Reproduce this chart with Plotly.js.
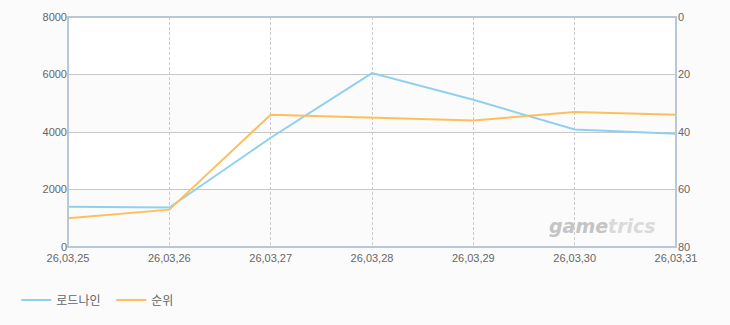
<!DOCTYPE html>
<html><head><meta charset="utf-8">
<script src="https://cdn.plot.ly/plotly-3.0.1.min.js"></script>
<style>html,body{margin:0;padding:0;background:#fbfbfb;}#c{width:730px;height:325px;}</style>
</head><body><div id="c"></div>
<script>
var dates = ["26,03,25","26,03,26","26,03,27","26,03,28","26,03,29","26,03,30","26,03,31"];
var players = [1400, 1370, 3800, 6050, 5120, 4090, 3940];
var rank = [70, 67, 34, 35, 36, 33, 34];
var leftTicks = [0, 2000, 4000, 6000, 8000];
var rightTicks = [0, 20, 40, 60, 80];

var font = {family: "Liberation Sans, Arial, sans-serif", size: 11, color: "#666"};
var shapes = [];
for (var i = 0; i < leftTicks.length - 1; i++) {
  shapes.push({type: "rect", xref: "paper", yref: "y", x0: 0, x1: 1, y0: leftTicks[i], y1: leftTicks[i+1],
    fillcolor: (i % 2 === 0) ? "#fbfbfb" : "#ffffff", line: {width: 0}, layer: "below"});
}
shapes.push({type: "rect", xref: "paper", yref: "paper", x0: 0, x1: 1, y0: 0, y1: 1,
  fillcolor: "rgba(0,0,0,0)", line: {color: "#b8c8d8", width: 2}, layer: "above"});

var data = [
  {x: dates, y: players, name: "로드나인", type: "scatter", mode: "lines", yaxis: "y",
   line: {color: "#8fd0f0", width: 2}},
  {x: dates, y: rank, name: "순위", type: "scatter", mode: "lines", yaxis: "y2",
   line: {color: "#ffbe5c", width: 2}}
];
var layout = {
  width: 730, height: 325,
  margin: {l: 68, r: 54, t: 17, b: 77},
  paper_bgcolor: "#fbfbfb", plot_bgcolor: "#ffffff",
  font: font,
  showlegend: true,
  legend: {orientation: "h", x: -0.085, xanchor: "left", y: -0.225, yanchor: "middle",
    font: {family: "Noto Sans CJK KR, sans-serif", size: 12, color: "#666"}, itemwidth: 30,
    entrywidth: 50, entrywidthmode: "pixels", bgcolor: "rgba(0,0,0,0)"},
  xaxis: {type: "category", range: [0, dates.length - 1], showgrid: true, gridcolor: "#cccccc", griddash: "3px,2px",
    gridwidth: 1, zeroline: false, ticks: "", tickfont: font, ticklabelstandoff: 3, showline: false, fixedrange: true},
  yaxis: {range: [0, 8000], tickvals: leftTicks, ticktext: leftTicks.map(String), showgrid: true, gridcolor: "#c8c8c8",
    zeroline: false, ticks: "", tickfont: font, ticklabelstandoff: 0, showline: false, fixedrange: true},
  yaxis2: {overlaying: "y", side: "right", range: [80, 0], tickvals: rightTicks, showgrid: false,
    zeroline: false, ticks: "", tickfont: font, ticklabelstandoff: 1, showline: false, fixedrange: true},
  shapes: shapes,
  annotations: [{xref: "paper", yref: "paper", x: 0.97, y: 0.09, xanchor: "right", yanchor: "middle",
    text: "<b><i>game<span style='color:#dadada'>trics</span></i></b>", showarrow: false,
    font: {family: "DejaVu Sans, sans-serif", size: 19, color: "#c4c4c4"}}]
};
Plotly.newPlot("c", data, layout, {displayModeBar: false, staticPlot: true});
</script></body></html>
